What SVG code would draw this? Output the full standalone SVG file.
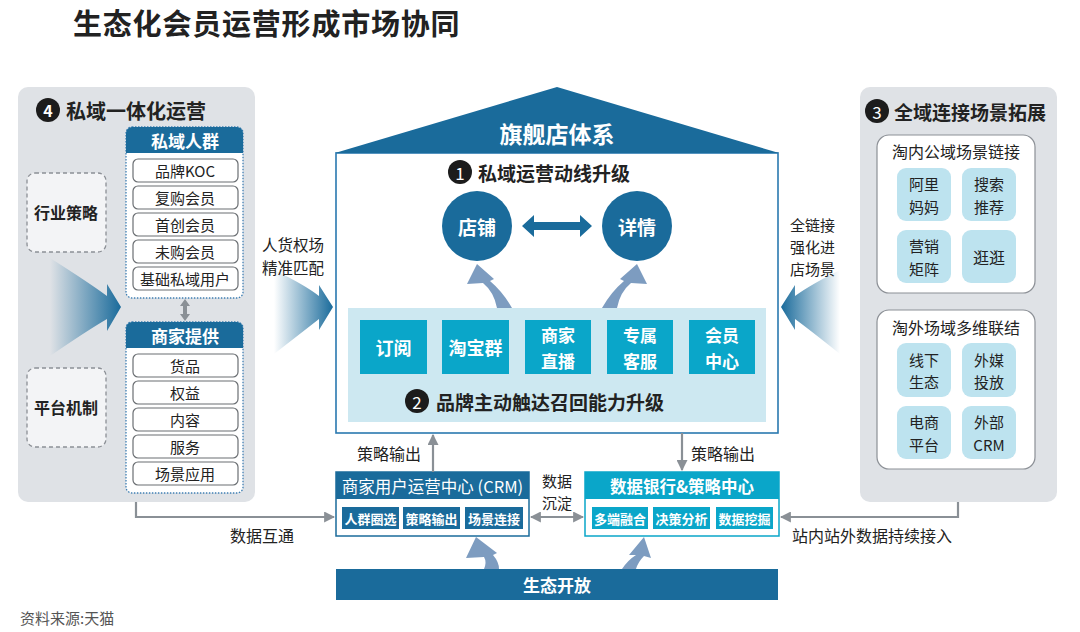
<svg xmlns="http://www.w3.org/2000/svg" width="1080" height="632" viewBox="0 0 1080 632">
<defs>
<style>
text{font-family:'Noto Sans CJK SC','Noto Sans',sans-serif;fill:#222;dominant-baseline:central}
.c{text-anchor:middle}
.b{font-weight:700}
.w{fill:#fff}
.item{fill:#fff;stroke:#6b6f73;stroke-width:1.2}
.grp{fill:#fff;stroke:#3f7fb3;stroke-width:1.3;stroke-dasharray:1.5 1.5}
.dash{fill:#f3f4f6;stroke:#8c9096;stroke-width:1.3;stroke-dasharray:4 3}
.dk{fill:#1a6b9b}
.cy{fill:#0aa6c9}
.tile{fill:#bde3ef}
.panel{fill:#dfe2e6}
.conn{fill:none;stroke:#8a9096;stroke-width:2.2}
.curv{fill:#7d9cc0}
</style>
<marker id="ah" viewBox="0 0 10 10" refX="9" refY="5" markerWidth="5" markerHeight="5" orient="auto-start-reverse">
<path d="M0,0 L10,5 L0,10 Z" fill="#8a9096"/>
</marker>
<linearGradient id="gr" x1="0" y1="0" x2="1" y2="0">
<stop offset="0" stop-color="#1a6b9b" stop-opacity="0"/>
<stop offset="1" stop-color="#1a6b9b" stop-opacity="1"/>
</linearGradient>
<linearGradient id="gl" x1="1" y1="0" x2="0" y2="0">
<stop offset="0" stop-color="#1a6b9b" stop-opacity="0"/>
<stop offset="1" stop-color="#1a6b9b" stop-opacity="1"/>
</linearGradient>
</defs>
<rect width="1080" height="632" fill="#fff"/>

<text id="title" x="73" y="22" class="b" font-size="29" letter-spacing="0.8">生态化会员运营形成市场协同</text>

<!-- Left panel -->
<g id="panel4">
<rect x="18" y="87" width="237" height="415" rx="10" class="panel"/>
<circle cx="48" cy="110" r="12" fill="#1c1c1c"/>
<text x="48" y="110" class="c w b" font-size="16">4</text>
<text x="66" y="110" class="b" font-size="20">私域一体化运营</text>
</g>
<g id="hangye">
<rect x="27" y="173" width="79" height="79" rx="8" class="dash"/>
<text x="66" y="212" class="c b" font-size="16">行业策略</text>
</g>
<g id="pingtai">
<rect x="27" y="368" width="79" height="79" rx="8" class="dash"/>
<text x="66" y="407" class="c b" font-size="16">平台机制</text>
</g>
<g id="siyu">
<rect x="126" y="127" width="117" height="171" rx="6" class="grp"/>
<path d="M126,153 V133 a6,6 0 0 1 6,-6 H237 a6,6 0 0 1 6,6 V153 Z" class="dk"/>
<text x="185" y="140" class="c w b" font-size="17">私域人群</text>
<rect x="133" y="159" width="105" height="23" rx="5" class="item"/>
<text x="185" y="170.5" class="c" font-size="15">品牌KOC</text>
<rect x="133" y="186" width="105" height="23" rx="5" class="item"/>
<text x="185" y="197.5" class="c" font-size="15">复购会员</text>
<rect x="133" y="213" width="105" height="23" rx="5" class="item"/>
<text x="185" y="224.5" class="c" font-size="15">首创会员</text>
<rect x="133" y="240" width="105" height="23" rx="5" class="item"/>
<text x="185" y="251.5" class="c" font-size="15">未购会员</text>
<rect x="133" y="267" width="105" height="23" rx="5" class="item"/>
<text x="185" y="278.5" class="c" font-size="15">基础私域用户</text>
</g>
<g id="shangjia">
<rect x="126" y="322" width="117" height="171" rx="6" class="grp"/>
<path d="M126,348 V328 a6,6 0 0 1 6,-6 H237 a6,6 0 0 1 6,6 V348 Z" class="dk"/>
<text x="185" y="335" class="c w b" font-size="17">商家提供</text>
<rect x="133" y="354" width="105" height="23" rx="5" class="item"/>
<text x="185" y="365.5" class="c" font-size="15">货品</text>
<rect x="133" y="381" width="105" height="23" rx="5" class="item"/>
<text x="185" y="392.5" class="c" font-size="15">权益</text>
<rect x="133" y="408" width="105" height="23" rx="5" class="item"/>
<text x="185" y="419.5" class="c" font-size="15">内容</text>
<rect x="133" y="435" width="105" height="23" rx="5" class="item"/>
<text x="185" y="446.5" class="c" font-size="15">服务</text>
<rect x="133" y="462" width="105" height="23" rx="5" class="item"/>
<text x="185" y="473.5" class="c" font-size="15">场景应用</text>
</g>

<!-- House -->
<g id="house">
<rect x="336" y="153" width="442" height="280" fill="#fff" stroke="#2a78b0" stroke-width="1.6"/>
<polygon points="335,153 557,87 779,153" class="dk"/>
<text x="557" y="133" class="c w b" font-size="23">旗舰店体系</text>
<circle cx="460" cy="172" r="12" fill="#1c1c1c"/>
<text x="460" y="172" class="c w" font-size="17">1</text>
<text x="478" y="172" class="b" font-size="19">私域运营动线升级</text>
</g>
<g id="dianpu">
<circle cx="477" cy="226" r="35" class="dk"/>
<text x="477" y="226" class="c w b" font-size="19">店铺</text>
</g>
<g id="xiangqing">
<circle cx="637" cy="226" r="35" class="dk"/>
<text x="637" y="226" class="c w b" font-size="19">详情</text>
</g>
<g id="touch">
<rect x="348" y="308" width="418" height="114" fill="#cde8f1"/>
<rect x="360" y="320" width="67" height="54" class="cy"/>
<text x="393.5" y="347" class="c w b" font-size="18">订阅</text>
<rect x="442" y="320" width="67" height="54" class="cy"/>
<text x="475.5" y="347" class="c w b" font-size="18">淘宝群</text>
<rect x="525" y="320" width="66" height="54" class="cy"/>
<text x="558" y="334.5" class="c w b" font-size="17">商家<tspan x="558" dy="25">直播</tspan></text>
<rect x="607" y="320" width="66" height="54" class="cy"/>
<text x="640" y="334.5" class="c w b" font-size="17">专属<tspan x="640" dy="25">客服</tspan></text>
<rect x="689" y="320" width="66" height="54" class="cy"/>
<text x="722" y="334.5" class="c w b" font-size="17">会员<tspan x="722" dy="25">中心</tspan></text>
<circle cx="417" cy="401" r="12" fill="#1c1c1c"/>
<text x="417" y="401" class="c w" font-size="17">2</text>
<text x="436" y="401" class="b" font-size="19">品牌主动触达召回能力升级</text>
</g>

<!-- Right panel -->
<g id="panel3">
<rect x="860" y="87" width="197" height="415" rx="10" class="panel"/>
<circle cx="877" cy="111" r="12" fill="#1c1c1c"/>
<text x="877" y="111" class="c w" font-size="17">3</text>
<text x="894" y="111" class="b" font-size="19">全域连接场景拓展</text>
</g>
<g id="taonei">
<rect x="877" y="135" width="158" height="158" rx="12" fill="#fff" stroke="#8c9096" stroke-width="1.2"/>
<text x="956" y="151" class="c" font-size="16">淘内公域场景链接</text>
<rect x="897" y="168" width="54" height="53" rx="9" class="tile"/>
<text x="924" y="183.5" class="c" font-size="15">阿里<tspan x="924" dy="22">妈妈</tspan></text>
<rect x="962" y="168" width="54" height="53" rx="9" class="tile"/>
<text x="989" y="183.5" class="c" font-size="15">搜索<tspan x="989" dy="22">推荐</tspan></text>
<rect x="897" y="230" width="54" height="53" rx="9" class="tile"/>
<text x="924" y="245.5" class="c" font-size="15">营销<tspan x="924" dy="22">矩阵</tspan></text>
<rect x="962" y="230" width="54" height="53" rx="9" class="tile"/>
<text x="989" y="256.5" class="c" font-size="16">逛逛</text>
</g>
<g id="taowai">
<rect x="877" y="310" width="158" height="159" rx="12" fill="#fff" stroke="#8c9096" stroke-width="1.2"/>
<text x="956" y="327" class="c" font-size="16">淘外场域多维联结</text>
<rect x="897" y="343" width="54" height="54" rx="9" class="tile"/>
<text x="924" y="359" class="c" font-size="15">线下<tspan x="924" dy="22">生态</tspan></text>
<rect x="962" y="343" width="54" height="54" rx="9" class="tile"/>
<text x="989" y="359" class="c" font-size="15">外媒<tspan x="989" dy="22">投放</tspan></text>
<rect x="897" y="406" width="54" height="53" rx="9" class="tile"/>
<text x="924" y="421.5" class="c" font-size="15">电商<tspan x="924" dy="22">平台</tspan></text>
<rect x="962" y="406" width="54" height="53" rx="9" class="tile"/>
<text x="989" y="421.5" class="c" font-size="15">外部<tspan x="989" dy="22">CRM</tspan></text>
</g>

<!-- CRM -->
<g id="crm">
<rect x="336" y="472" width="193" height="64" fill="#fff" stroke="#1a6b9b" stroke-width="1.5"/>
<rect x="336" y="472" width="193" height="27" class="dk"/>
<text x="432.5" y="485.5" class="c w" font-size="16.5">商家用户运营中心 (CRM)</text>
<rect x="342" y="507" width="57" height="22" class="dk"/>
<text x="370.5" y="518" class="c w b" font-size="13">人群圈选</text>
<rect x="403" y="507" width="57" height="22" class="dk"/>
<text x="431.5" y="518" class="c w b" font-size="13">策略输出</text>
<rect x="465" y="507" width="58" height="22" class="dk"/>
<text x="494" y="518" class="c w b" font-size="13">场景连接</text>
</g>
<g id="databank">
<rect x="585" y="472" width="194" height="64" fill="#fff" stroke="#0aa6c9" stroke-width="1.5"/>
<rect x="585" y="472" width="194" height="27" class="cy"/>
<text x="682" y="485.5" class="c w b" font-size="16.5">数据银行&amp;策略中心</text>
<rect x="592" y="507" width="56" height="22" class="cy"/>
<text x="620" y="518" class="c w b" font-size="13">多端融合</text>
<rect x="653" y="507" width="57" height="22" class="cy"/>
<text x="681.5" y="518" class="c w b" font-size="13">决策分析</text>
<rect x="716" y="507" width="57" height="22" class="cy"/>
<text x="744.5" y="518" class="c w b" font-size="13">数据挖掘</text>
</g>
<g id="eco">
<rect x="336" y="569" width="442" height="31" class="dk"/>
<text x="557" y="584.5" class="c w b" font-size="17">生态开放</text>
</g>

<!-- Connectors -->
<g id="connectors">
<path d="M50,258 Q88,282 107,296 L107,284 L121,307 L107,331 L107,319 Q88,330 50,356 Z" fill="url(#gr)"/>
<path d="M274,270 Q305,285 319,296 L319,285 L333,307 L319,330 L319,319 Q305,330 274,354 Z" fill="url(#gr)"/>
<path d="M840,270 Q810,285 795,296 L795,285 L781,307 L795,330 L795,319 Q810,330 840,354 Z" fill="url(#gl)"/>
<path d="M522,226 L534,215 L534,222 L580,222 L580,215 L592,226 L580,237 L580,230 L534,230 L534,237 Z" class="dk"/>
<path d="M497,308 Q494,292 483,283 L467,284 L477,264 L494,279 L490,281 Q503,292 512,308 Z" class="curv"/>
<path d="M617,308 Q620,292 631,283 L647,284 L637,264 L620,279 L624,281 Q611,292 602,308 Z" class="curv"/>
<path d="M484,569 Q487,562 484,557 L466,558 L476,537 L497,553 L493,555 Q499,562 499,569 Z" class="curv"/>
<path d="M622,569 Q628,560 636,555 L629,555 L644,537 L651,558 L644,556 Q638,562 636,569 Z" class="curv"/>
<path d="M185,299 L190,306 L187,306 L187,314 L190,314 L185,321 L180,314 L183,314 L183,306 L180,306 Z" fill="#8a9096"/>
<line x1="433" y1="472" x2="433" y2="435" class="conn" marker-end="url(#ah)"/>
<line x1="682" y1="433" x2="682" y2="470" class="conn" marker-end="url(#ah)"/>
<line x1="531" y1="517" x2="583" y2="517" class="conn" marker-start="url(#ah)" marker-end="url(#ah)"/>
<polyline points="136,502 136,517 334,517" class="conn" marker-end="url(#ah)"/>
<polyline points="958,502 958,517 781,517" class="conn" marker-end="url(#ah)"/>
</g>

<!-- labels -->
<g id="labels">
<text x="262" y="244" font-size="15.5">人货权场<tspan x="262" dy="22.5">精准匹配</tspan></text>
<text x="790" y="224" font-size="15">全链接<tspan x="790" dy="22">强化进</tspan><tspan x="790" dy="22">店场景</tspan></text>
<text x="357" y="453" font-size="16">策略输出</text>
<text x="691" y="453" font-size="16">策略输出</text>
<text x="557" y="480" class="c" font-size="15">数据<tspan x="557" dy="22">沉淀</tspan></text>
<text x="230" y="535" font-size="16">数据互通</text>
<text x="792" y="535" font-size="16">站内站外数据持续接入</text>
<text x="20" y="617" font-size="15" style="fill:#555">资料来源:天猫</text>
</g>
</svg>
